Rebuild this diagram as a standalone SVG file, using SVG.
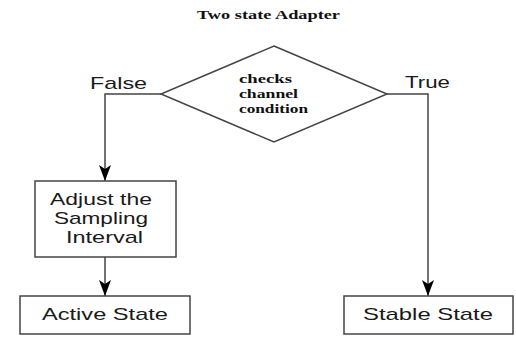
<svg xmlns="http://www.w3.org/2000/svg" width="516" height="348" viewBox="0 0 516 348">
<style>
.box{fill:#fff;stroke:#444;stroke-width:1.5}
.edge{fill:none;stroke:#444;stroke-width:1.5}
.sans{font-family:"Liberation Sans",Arial,sans-serif;font-size:17px;fill:#1a1a1a}
.serif{font-family:"Liberation Serif","Times New Roman",serif;font-weight:bold;fill:#111}
</style>
<defs>
<marker id="ah" viewBox="0 0 16 12" refX="16" refY="6" markerWidth="16" markerHeight="12" markerUnits="userSpaceOnUse" orient="auto">
<path d="M0,0 L4,6 L0,12 L16,6 Z" fill="#000"/>
</marker>
</defs>
<rect width="516" height="348" fill="#fff"/>
<text class="serif" x="197" y="19" font-size="12" textLength="143" lengthAdjust="spacingAndGlyphs">Two state Adapter</text>
<g id="edges">
<path class="edge" d="M161,94 H105 V181" marker-end="url(#ah)"/>
<path class="edge" d="M105,257 V296" marker-end="url(#ah)"/>
<path class="edge" d="M387,94 H428 V296" marker-end="url(#ah)"/>
<text class="sans" x="90" y="89" textLength="57" lengthAdjust="spacingAndGlyphs">False</text>
<text class="sans" x="405" y="88" textLength="45" lengthAdjust="spacingAndGlyphs">True</text>
</g>
<g id="decision">
<polygon class="box" points="274,46 387,94 274,142 161,94"/>
<text class="serif" font-size="13" x="239" y="83" textLength="53" lengthAdjust="spacingAndGlyphs">checks</text>
<text class="serif" font-size="13" x="239" y="98" textLength="59" lengthAdjust="spacingAndGlyphs">channel</text>
<text class="serif" font-size="13" x="239" y="113" textLength="69" lengthAdjust="spacingAndGlyphs">condition</text>
</g>
<g id="adjust">
<rect class="box" x="35" y="181" width="141" height="76"/>
<text class="sans" x="50" y="205" textLength="102" lengthAdjust="spacingAndGlyphs">Adjust the</text>
<text class="sans" x="54" y="224" textLength="94" lengthAdjust="spacingAndGlyphs">Sampling</text>
<text class="sans" x="66" y="243" textLength="77" lengthAdjust="spacingAndGlyphs">Interval</text>
</g>
<g id="active">
<rect class="box" x="20" y="296" width="170" height="38"/>
<text class="sans" x="42" y="320" textLength="126" lengthAdjust="spacingAndGlyphs">Active State</text>
</g>
<g id="stable">
<rect class="box" x="344" y="296" width="169" height="38"/>
<text class="sans" x="363" y="320" textLength="130" lengthAdjust="spacingAndGlyphs">Stable State</text>
</g>
</svg>
